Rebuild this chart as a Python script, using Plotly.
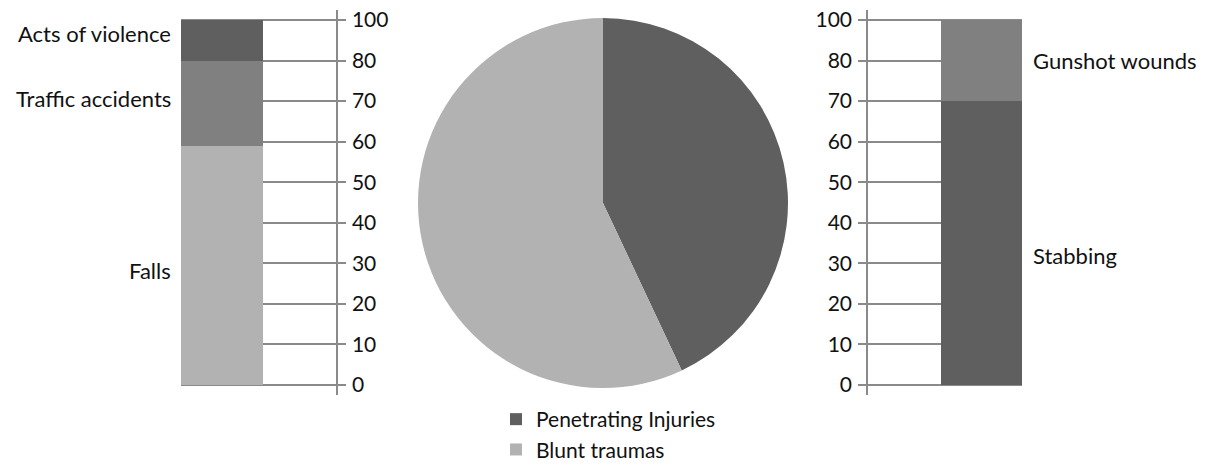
import plotly.graph_objects as go

# ---- data ----
blunt_categories = ["Falls", "Traffic accidents", "Acts of violence"]
blunt_values = [59, 21, 10]          # in axis units (top gridline labelled "100")
blunt_colors = ["#b2b2b2", "#808080", "#5f5f5f"]
blunt_label_shift = [-5, 5, 7]

pen_categories = ["Stabbing", "Gunshot wounds"]
pen_values = [70, 20]
pen_colors = ["#5f5f5f", "#808080"]
pen_label_shift = [-12, 0]

pie_labels = ["Penetrating Injuries", "Blunt traumas"]
pie_values = [43, 57]
pie_colors = ["#5f5f5f", "#b2b2b2"]

tick_vals = [0, 10, 20, 30, 40, 50, 60, 70, 80, 90]
tick_text = ["0", "10", "20", "30", "40", "50", "60", "70", "80", "100"]

W, H = 1206, 467
FONT = "Lato"
TXT = "#111111"
GRID = "#8a8a8a"
LABEL_SIZE = 22
LEGEND_SIZE = 21
TICK_SIZE = 21

def px_x(p):
    return p / W

def px_y(p):
    return 1 - p / H

fig = go.Figure()

for cat, val, col in zip(blunt_categories, blunt_values, blunt_colors):
    fig.add_trace(go.Bar(x=[0], y=[val], name=cat, marker_color=col, marker_line_width=0,
                         width=1, xaxis="x", yaxis="y", showlegend=False, hoverinfo="skip"))

for cat, val, col in zip(pen_categories, pen_values, pen_colors):
    fig.add_trace(go.Bar(x=[0], y=[val], name=cat, marker_color=col, marker_line_width=0,
                         width=1, xaxis="x2", yaxis="y2", showlegend=False, hoverinfo="skip"))

fig.add_trace(go.Pie(labels=pie_labels, values=pie_values, marker=dict(colors=pie_colors),
                     sort=False, direction="clockwise", rotation=0, textinfo="none",
                     hoverinfo="label+percent",
                     domain=dict(x=[px_x(418), px_x(788)], y=[px_y(388), px_y(18)])))

# category labels beside the stacked bars
cum = 0
for cat, val, sh in zip(blunt_categories, blunt_values, blunt_label_shift):
    fig.add_annotation(x=-0.5, y=cum + val / 2, xref="x", yref="y", text=cat, showarrow=False,
                       xanchor="right", yanchor="middle", xshift=-8, yshift=sh,
                       font=dict(family=FONT, size=LABEL_SIZE, color=TXT))
    cum += val
cum = 0
for cat, val, sh in zip(pen_categories, pen_values, pen_label_shift):
    fig.add_annotation(x=0.5, y=cum + val / 2, xref="x2", yref="y2", text=cat, showarrow=False,
                       xanchor="left", yanchor="middle", xshift=9, yshift=sh,
                       font=dict(family=FONT, size=LABEL_SIZE, color=TXT))
    cum += val

yax_common = dict(range=[-2.46, 92.46], tickvals=tick_vals, ticktext=tick_text,
                  showgrid=True, gridcolor=GRID, gridwidth=1.5,
                  zeroline=True, zerolinecolor=GRID, zerolinewidth=1.5,
                  showline=True, linecolor=GRID, linewidth=1.5,
                  ticks="outside", ticklen=8, tickcolor=GRID, tickwidth=1.5,
                  tickfont=dict(family=FONT, size=TICK_SIZE, color=TXT),
                  domain=[px_y(395), px_y(10)], fixedrange=True, automargin=False)

fig.update_layout(
    width=W, height=H,
    margin=dict(l=0, r=0, t=0, b=0, autoexpand=False),
    paper_bgcolor="white", plot_bgcolor="white",
    barmode="stack", bargap=0,
    xaxis=dict(domain=[px_x(181), px_x(336)], range=[-0.5, -0.5 + 155 / 82],
               visible=False, fixedrange=True),
    yaxis=dict(anchor="x", side="right", ticklabelstandoff=2, **yax_common),
    xaxis2=dict(domain=[px_x(868), px_x(1022)], range=[0.5 - 154 / 81, 0.5],
                visible=False, fixedrange=True),
    yaxis2=dict(anchor="x2", side="left", ticklabelstandoff=2, **yax_common),
    showlegend=True,
    legend=dict(x=px_x(496), y=px_y(399), xanchor="left", yanchor="top",
                orientation="v", traceorder="normal",
                font=dict(family=FONT, size=LEGEND_SIZE, color=TXT),
                itemsizing="constant", bgcolor="rgba(0,0,0,0)"),
)

fig.write_html("out.html", config={"displayModeBar": False})

# remove the browser's default page margin so the figure sits at the top-left corner
with open("out.html", "r", encoding="utf-8") as f:
    html = f.read()
html = html.replace("<head>", "<head><style>html,body{margin:0;padding:0;overflow:hidden;}</style>", 1)
with open("out.html", "w", encoding="utf-8") as f:
    f.write(html)
